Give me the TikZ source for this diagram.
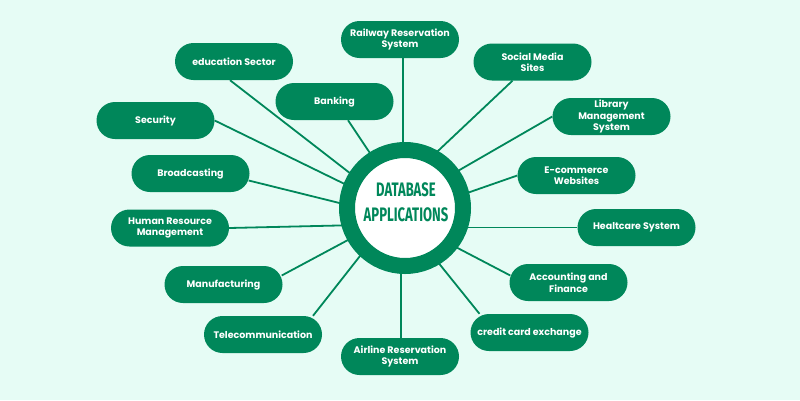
\documentclass[tikz,border=0pt]{standalone}
\usepackage{fontspec}
\setmainfont{Poppins}
\newfontfamily\headfont{Fira Sans}
\usetikzlibrary{calc,backgrounds}
\definecolor{leaf}{RGB}{0,135,90}
\definecolor{mint}{RGB}{230,252,245}
\begin{document}
\begin{tikzpicture}[x=1pt,y=-1pt,
  pill/.style={rectangle, rounded corners=18.5pt, minimum width=118pt,
    minimum height=37pt, fill=leaf, text=white, align=center, inner sep=0pt,
    font=\bfseries\fontsize{9.5}{11.5}\selectfont},
  spoke/.style={draw=leaf, line width=1.8pt},
  ring/.style={circle, fill=white, draw=leaf, line width=16pt,
    minimum size=116pt, inner sep=0pt},
  headline/.style={text=leaf, align=center,
    font=\headfont\bfseries\fontsize{19.5}{24.5}\selectfont}]
\useasboundingbox (0,0) rectangle (800,400);

% central hub
\node[ring] (hub) at (405,208) {};
\node[headline] (title) at (406,202)
  {\scalebox{0.67}[1]{DATABASE}\\\scalebox{0.67}[1]{APPLICATIONS}};

% application pills
\node[pill] (rail)    at (400,39.5)  {Railway Reservation\\System};
\node[pill] (social)  at (532.5,62)  {Social Media\\Sites};
\node[pill] (library) at (611.5,116.5) {Library\\Management\\System};
\node[pill] (ecom)    at (576.5,175.5) {E-commerce\\Websites};
\node[pill] (health)  at (636.5,227.5) {Healtcare System};
\node[pill] (acc)     at (568.5,282.5) {Accounting and\\Finance};
\node[pill] (credit)  at (529.5,332.5) {credit card exchange};
\node[pill] (airline) at (400,356.5) {Airline Reservation\\System};
\node[pill] (telecom) at (263,334.5) {Telecommunication};
\node[pill] (manuf)   at (223.5,284.5) {Manufacturing};
\node[pill] (hrm)     at (170,228)   {Human Resource\\Management};
\node[pill] (broad)   at (190.5,173.5) {Broadcasting};
\node[pill] (sec)     at (155.5,120.5) {Security};
\node[pill] (edu)     at (234,61.5)  {education Sector};
\node[pill] (bank)    at (334.5,101.5) {Banking};

% spoke targets hidden under the hub ring
\coordinate (tSocial)  at (404,183);
\coordinate (tLibrary) at (404,202);
\coordinate (tEcom)    at (404,215);
\coordinate (tAcc)     at (404,220);
\coordinate (tCredit)  at (404,220);
\coordinate (tTelecom) at (404,200);
\coordinate (tManuf)   at (404,210);
\coordinate (tHrm)     at (404,224);
\coordinate (tBroad)   at (404,219);
\coordinate (tSec)     at (404,213);
\coordinate (tEdu)     at (404,215);
\coordinate (tBank)    at (404,204);

\begin{scope}[on background layer]
  \fill[mint] (0,0) rectangle (800,400);
  \draw[spoke] ($(rail.south)+(3,0)$) -- ($(hub)+(-2,0)$);
  \draw[spoke] ($(social.south)+(-20,0)$) -- (tSocial);
  \draw[spoke] (library.west) -- (tLibrary);
  \draw[spoke] (ecom.west) -- (tEcom);
  \draw[spoke] (health.west) -- (health.west -| hub);
  \draw[spoke] ($(acc.west)+(1,-7)$) -- (tAcc);
  \draw[spoke] ($(credit.north)+(-50,0)$) -- (tCredit);
  \draw[spoke] ($(airline.north)+(1,0)$) -- ($(hub)+(-4,0)$);
  \draw[spoke] ($(telecom.north)+(50,0)$) -- (tTelecom);
  \draw[spoke] ($(manuf.east)+(-1,-9)$) -- (tManuf);
  \draw[spoke] (hrm.east) -- (tHrm);
  \draw[spoke] ($(broad.east)+(-1,7)$) -- (tBroad);
  \draw[spoke] (sec.east) -- (tSec);
  \draw[spoke] ($(edu.south)+(-4,0)$) -- (tEdu);
  \draw[spoke] ($(bank.south)+(13.5,0)$) -- (tBank);
\end{scope}
\end{tikzpicture}
\end{document}
